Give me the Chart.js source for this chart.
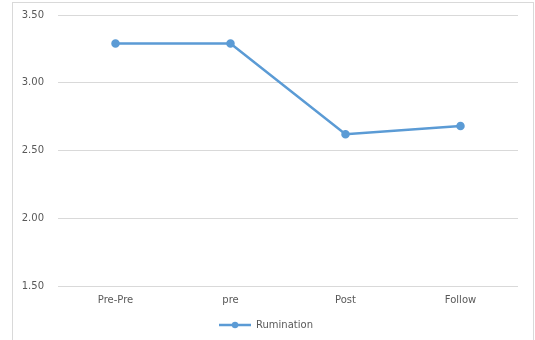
<!DOCTYPE html>
<html><head><meta charset="utf-8">
<script src="https://cdn.jsdelivr.net/npm/chart.js@4"></script>
<style>
html,body{margin:0;padding:0;background:#fff;overflow:hidden;}
#frame{position:absolute;left:12px;top:2px;width:522px;height:360px;border:1px solid #d9d9d9;box-sizing:border-box;}
#wrap{position:absolute;left:0;top:-5px;width:535px;height:345px;}
</style></head>
<body>
<div id="frame"></div>
<div id="wrap"><canvas id="c" width="535" height="345"></canvas></div>
<script>
const categories = ["Pre-Pre", "pre", "Post", "Follow"];
const rumination = [3.29, 3.29, 2.62, 2.68];
const yTicks = [1.5, 2.0, 2.5, 3.0, 3.5];
const seriesName = "Rumination";
const color = "#5B9BD5";

const icon = document.createElement('canvas');
icon.width = 32; icon.height = 8;
const ictx = icon.getContext('2d');
ictx.strokeStyle = color; ictx.lineWidth = 2.5;
ictx.beginPath(); ictx.moveTo(0,4); ictx.lineTo(32,4); ictx.stroke();
ictx.fillStyle = color; ictx.beginPath(); ictx.arc(16,4,3.2,0,Math.PI*2); ictx.fill();

new Chart(document.getElementById('c'), {
  type: 'line',
  data: { labels: categories, datasets: [{
    label: seriesName, data: rumination,
    borderColor: color, backgroundColor: color, borderWidth: 2.5,
    pointRadius: 3, pointBackgroundColor: color, pointBorderColor: color,
    tension: 0, pointStyle: 'circle'
  }]},
  options: {
    responsive: false, animation: false,
    layout: { padding: { left: 14, right: 17, top: 4, bottom: 0 } },
    plugins: {
      legend: { position: 'bottom', labels: { usePointStyle: true, pointStyle: icon, pointStyleWidth: 32, boxHeight: 8, color: '#595959', font: { family: 'DejaVu Sans', size: 10 }, padding: 8 } },
      tooltip: { enabled: false }
    },
    scales: {
      x: { offset: true, grid: { display: false, drawTicks: false }, border: { display: false },
        afterFit: ax => { ax.height = ax.height - 2; },
        ticks: { color: '#595959', font: { family: 'DejaVu Sans', size: 10 }, padding: 8 } },
      y: { min: 1.5, max: 3.5, afterBuildTicks: ax => { ax.ticks = yTicks.map(v => ({ value: v })); },
        grid: { color: '#d9d9d9', drawTicks: false, lineWidth: 1 }, border: { display: false },
        afterFit: ax => { ax.width = 44; },
        ticks: { color: '#595959', font: { family: 'DejaVu Sans', size: 10 }, padding: 14, callback: v => Number(v).toFixed(2) } }
    }
  }
});
</script>
</body></html>
